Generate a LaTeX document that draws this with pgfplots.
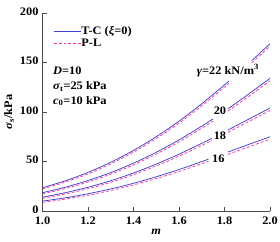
\documentclass[border=0pt]{standalone}
\usepackage{fontspec}
\setmainfont{Liberation Serif}[FakeStretch=1.08]
\usepackage{pgfplots}
\pgfplotsset{compat=1.18}
\definecolor{tcblue}{RGB}{65,65,205}
\definecolor{plpink}{RGB}{245,55,165}
\begin{document}
\begin{tikzpicture}[font=\fontsize{11.5}{13}\selectfont\bfseries]
\begin{axis}[
  scale only axis, width=227.5bp, height=198bp,
  xmin=1, xmax=2, ymin=0, ymax=200,
  axis x line=bottom, axis y line=left,
  axis line style={-, black!70},
  tick align=inside, tick style={black!70},
  xtick={1,1.2,1.4,1.6,1.8,2.0},
  ytick={0,50,100,150,200},
  xticklabel style={yshift=-2bp, /pgf/number format/.cd, fixed, fixed zerofill, precision=1},
  yticklabel style={xshift=-0.5bp, yshift=1.5bp},
  /pgf/number format/assume math mode=true,
  xlabel={\textit{m}}, ylabel={\textit{σ}\textsubscript{s}/kPa},
  xlabel style={yshift=2.5bp},
  ylabel style={yshift=-1bp},
  legend style={draw=none, fill=none, inner sep=0pt, row sep=1bp,
    nodes={inner sep=0.5bp, text height=7.5bp, text depth=2.5bp}},
  legend pos=north west,
  legend style={at={(axis description cs:0.046,0.935)}, anchor=north west},
  legend cell align=left,
  legend image code/.code={\draw[#1] (0bp,0bp) -- (27bp,0bp);},
]
% gamma = 22
\addplot[tcblue, line width=0.75pt, smooth] coordinates {(1.0,23.5)(1.1,30.5)(1.2,39.0)(1.3,49.2)(1.4,61.2)(1.5,75.0)(1.6,90.7)(1.7,108.3)(1.8,127.4)(1.82,131.3)};
\addlegendentry{T-C (\textit{ξ}=0)}
\addplot[plpink, line width=0.75pt, dash pattern=on 3pt off 2pt, smooth] coordinates {(1.0,22.3)(1.1,29.2)(1.2,37.5)(1.3,47.6)(1.4,59.5)(1.5,73.2)(1.6,88.7)(1.7,106.2)(1.8,125.2)(1.82,129.0)};
\addlegendentry{P-L}
\addplot[tcblue, line width=0.75pt, forget plot] coordinates {(1.92,151.9)(2.0,169.0)};
\addplot[plpink, line width=0.75pt, dash pattern=on 3pt off 2pt, forget plot] coordinates {(1.92,149.5)(2.0,166.5)};
% gamma = 20
\addplot[tcblue, line width=0.75pt, smooth, forget plot] coordinates {(1.0,18.5)(1.1,24.0)(1.2,30.8)(1.3,38.8)(1.4,48.3)(1.5,59.3)(1.6,71.8)(1.7,85.7)(1.75,93.1)};
\addplot[plpink, line width=0.75pt, dash pattern=on 3pt off 2pt, smooth, forget plot] coordinates {(1.0,17.3)(1.1,22.7)(1.2,29.3)(1.3,37.2)(1.4,46.6)(1.5,57.5)(1.6,69.8)(1.7,83.6)(1.75,90.9)};
\addplot[tcblue, line width=0.75pt, smooth, forget plot] coordinates {(1.815,103.2)(1.9,117.1)(2.0,134.0)};
\addplot[plpink, line width=0.75pt, dash pattern=on 3pt off 2pt, smooth, forget plot] coordinates {(1.815,101.0)(1.9,114.7)(2.0,131.5)};
% gamma = 18
\addplot[tcblue, line width=0.75pt, smooth, forget plot] coordinates {(1.0,14.0)(1.1,18.5)(1.2,24.0)(1.3,30.6)(1.4,38.4)(1.5,47.4)(1.6,57.4)(1.7,68.4)(1.745,73.5)};
\addplot[plpink, line width=0.75pt, dash pattern=on 3pt off 2pt, smooth, forget plot] coordinates {(1.0,12.8)(1.1,17.2)(1.2,22.5)(1.3,29.0)(1.4,36.7)(1.5,45.6)(1.6,55.4)(1.7,66.3)(1.745,71.3)};
\addplot[tcblue, line width=0.75pt, smooth, forget plot] coordinates {(1.815,81.8)(1.9,92.0)(2.0,104.0)};
\addplot[plpink, line width=0.75pt, dash pattern=on 3pt off 2pt, smooth, forget plot] coordinates {(1.815,79.5)(1.9,89.6)(2.0,101.5)};
% gamma = 16
\addplot[tcblue, line width=0.75pt, smooth, forget plot] coordinates {(1.0,10.0)(1.1,13.3)(1.2,17.4)(1.3,22.3)(1.4,28.0)(1.5,34.6)(1.6,41.9)(1.7,49.9)(1.73,52.4)};
\addplot[plpink, line width=0.75pt, dash pattern=on 3pt off 2pt, smooth, forget plot] coordinates {(1.0,8.8)(1.1,12.0)(1.2,15.9)(1.3,20.7)(1.4,26.3)(1.5,32.8)(1.6,39.9)(1.7,47.8)(1.73,50.3)};
\addplot[tcblue, line width=0.75pt, smooth, forget plot] coordinates {(1.815,59.5)(1.9,66.7)(2.0,75.0)};
\addplot[plpink, line width=0.75pt, dash pattern=on 3pt off 2pt, smooth, forget plot] coordinates {(1.815,57.2)(1.9,64.3)(2.0,72.5)};
% labels
\node at (axis cs:1.815,142) {\textit{γ}=22 kN/m\textsuperscript{3}};
\node at (axis cs:1.78,101.7) {20};
\node at (axis cs:1.78,76) {18};
\node at (axis cs:1.773,52.7) {16};
\node[anchor=west, inner sep=0pt] at (axis cs:1.046,142) {\textit{D}=10};
\node[anchor=west, inner sep=0pt] at (axis cs:1.046,126) {\textit{σ}\textsubscript{t}=25 kPa};
\node[anchor=west, inner sep=0pt] at (axis cs:1.046,111) {\textit{c}\textsubscript{0}=10 kPa};
\end{axis}
\pgfresetboundingbox
\path (current axis.south west) +(-42.5bp,-31bp) rectangle +(237.5bp,211bp);
\end{tikzpicture}
\end{document}
